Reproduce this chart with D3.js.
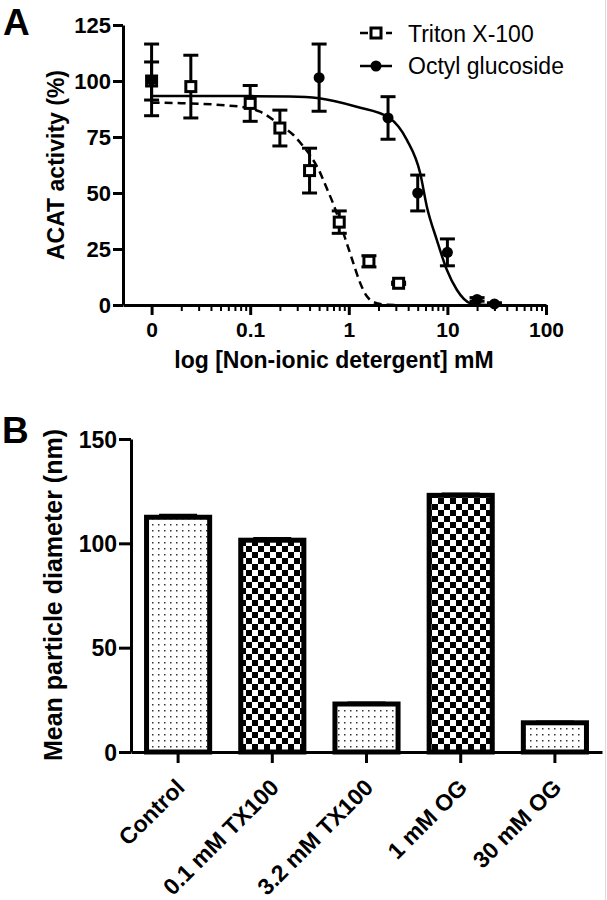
<!DOCTYPE html>
<html>
<head>
<meta charset="utf-8">
<script src="https://cdn.jsdelivr.net/npm/d3@7"></script>
<style>
  html, body { margin: 0; padding: 0; background: #fff; }
  svg { display: block; }
  text { font-family: "Liberation Sans", Arial, sans-serif; }
</style>
</head>
<body>
<svg id="chart" width="607" height="900"></svg>
<script>
// ---------- Panel A data ----------
const triX   = [0.01, 0.025, 0.1, 0.2, 0.4, 0.8, 1.6, 3.2];
const triY   = [100, 97.5, 90, 79, 60, 37, 19.5, 9.7];
const triErr = [8.5, 14, 8, 8, 10, 5, 2.5, 0.5];

const ogX   = [0.01, 0.5, 2.5, 5, 10, 20, 30];
const ogY   = [100.5, 101.5, 83.5, 50, 23.5, 2.5, 0.5];
const ogErr = [16, 15, 9.5, 8, 6, 0.8, 0.5];

// fitted curves
const triFitX = [0.01, 0.02, 0.05, 0.1, 0.126, 0.2, 0.274, 0.346, 0.41, 0.5, 0.598, 0.698, 0.817, 0.955, 1.114, 1.3, 1.52, 1.92, 2.5, 3.2];
const triFitY = [90.3, 90.1, 89.3, 87.8, 86.3, 80.5, 75.9, 70.8, 66.5, 60, 52.1, 45, 36.5, 27.5, 18.6, 10, 4, 0.8, 0.1, 0];
const ogFitX = [0.01, 0.1, 0.25, 0.5, 1.2, 2.57, 3.88, 5.3, 6.19, 7.82, 9.89, 12.5, 17.1, 22, 30];
const ogFitY = [93.3, 93.25, 93.1, 92.3, 88.5, 83.6, 73.7, 58.8, 43.9, 29, 15.6, 6.7, 0.8, 0.1, 0];

const xTickValsA = [0.01, 0.1, 1, 10, 100];
const xTickLabelsA = ["0", "0.1", "1", "10", "100"];
const yTickValsA = [0, 25, 50, 75, 100, 125];
const legendLabels = ["Triton X-100", "Octyl glucoside"];

// ---------- Panel B data ----------
const categories = ["Control", "0.1 mM TX100", "3.2 mM TX100", "1 mM OG", "30 mM OG"];
const barValues  = [112.5, 101.5, 23, 123, 14];
const barErr     = [1, 0.8, 0.5, 0.6, 0.4];
const yTickValsB = [0, 50, 100, 150];

const svg = d3.select("#chart");
const FONT = '"Liberation Sans", Arial, sans-serif';

// right edge faint line (scan border)
svg.append("line").attr("x1", 605.5).attr("x2", 605.5).attr("y1", 0).attr("y2", 900)
  .attr("stroke", "#dcdcdc").attr("stroke-width", 1);

// ---------- patterns ----------
const defs = svg.append("defs");
const dots = defs.append("pattern").attr("id", "dots").attr("patternUnits", "userSpaceOnUse")
  .attr("width", 6).attr("height", 6);
dots.append("rect").attr("width", 6).attr("height", 6).attr("fill", "#fff");
dots.append("rect").attr("x", 2).attr("y", 2).attr("width", 1.5).attr("height", 1.5).attr("fill", "#333");
const checker = defs.append("pattern").attr("id", "checker").attr("patternUnits", "userSpaceOnUse")
  .attr("width", 12).attr("height", 12);
checker.append("rect").attr("width", 12).attr("height", 12).attr("fill", "#fff");
checker.append("rect").attr("x", 0).attr("y", 0).attr("width", 6).attr("height", 6).attr("fill", "#000");
checker.append("rect").attr("x", 6).attr("y", 6).attr("width", 6).attr("height", 6).attr("fill", "#000");

// =============== PANEL A ===============
const xA = d3.scaleLog().domain([Math.pow(10, -2.29), 100]).range([123, 546]);
const yA = d3.scaleLinear().domain([0, 125]).range([305, 25]);

const gA = svg.append("g");

// minor ticks
const minorVals = [];
[0.01, 0.1, 1, 10].forEach(d => { for (let k = 2; k <= 9; k++) minorVals.push(d * k); });
gA.append("g").attr("transform", "translate(0,305)")
  .call(d3.axisBottom(xA).tickValues(minorVals).tickSize(6).tickFormat(""))
  .call(g => g.select(".domain").remove())
  .call(g => g.selectAll("line").attr("stroke", "#000").attr("stroke-width", 2));

// major x axis
gA.append("g").attr("transform", "translate(0,305)")
  .call(d3.axisBottom(xA).tickValues(xTickValsA).tickSize(10).tickSizeOuter(0)
    .tickFormat((d, i) => xTickLabelsA[i]))
  .call(g => g.select(".domain").attr("stroke", "#000").attr("stroke-width", 3))
  .call(g => g.selectAll(".tick line").attr("stroke", "#000").attr("stroke-width", 3))
  .call(g => g.selectAll(".tick text").attr("y", 32).attr("dy", 0)
    .style("font-family", FONT).style("font-size", "21px").style("font-weight", "bold").attr("fill", "#000"));

// y axis
gA.append("g").attr("transform", "translate(123,0)")
  .call(d3.axisLeft(yA).tickValues(yTickValsA).tickSize(10).tickSizeOuter(0).tickPadding(2))
  .call(g => g.select(".domain").attr("stroke", "#000").attr("stroke-width", 3))
  .call(g => g.selectAll(".tick line").attr("stroke", "#000").attr("stroke-width", 3))
  .call(g => g.selectAll(".tick text").attr("dy", "0.36em")
    .style("font-family", FONT).style("font-size", "22px").style("font-weight", "bold").attr("fill", "#000"));

// axis titles
gA.append("text").attr("x", 334).attr("y", 368).attr("text-anchor", "middle")
  .style("font-size", "23px").style("font-weight", "bold").text("log [Non-ionic detergent] mM");
gA.append("text").attr("transform", "translate(64,165) rotate(-90)").attr("text-anchor", "middle")
  .style("font-size", "23px").style("font-weight", "bold").text("ACAT activity (%)");

// panel letter
svg.append("text").attr("x", 3).attr("y", 35).style("font-size", "37px").style("font-weight", "bold").text("A");

// fit curves
const lineA = d3.line().x(d => xA(d[0])).y(d => yA(d[1])).curve(d3.curveMonotoneX);
gA.append("path").datum(ogFitX.map((x, i) => [x, ogFitY[i]]))
  .attr("d", lineA).attr("fill", "none").attr("stroke", "#000").attr("stroke-width", 2.5);
gA.append("path").datum(triFitX.map((x, i) => [x, triFitY[i]]))
  .attr("d", lineA).attr("fill", "none").attr("stroke", "#000").attr("stroke-width", 2.5)
  .attr("stroke-dasharray", "8,5");

// error bars
function errBars(xs, ys, es) {
  const g = gA.append("g").attr("stroke", "#000").attr("stroke-width", 3);
  xs.forEach((x, i) => {
    const cx = xA(x), y1 = yA(ys[i] + es[i]), y0 = yA(ys[i] - es[i]);
    g.append("line").attr("x1", cx).attr("x2", cx).attr("y1", y1).attr("y2", y0);
    g.append("line").attr("x1", cx - 7.5).attr("x2", cx + 7.5).attr("y1", y1).attr("y2", y1);
    g.append("line").attr("x1", cx - 7.5).attr("x2", cx + 7.5).attr("y1", y0).attr("y2", y0);
  });
}
errBars(triX, triY, triErr);
errBars(ogX, ogY, ogErr);

// markers
gA.append("g").selectAll("rect").data(triX).join("rect")
  .attr("x", (d) => xA(d) - 5).attr("y", (d, i) => yA(triY[i]) - 5)
  .attr("width", 10).attr("height", 10)
  .attr("fill", "#fff").attr("stroke", "#000").attr("stroke-width", 3);
gA.append("g").selectAll("circle").data(ogX).join("circle")
  .attr("cx", d => xA(d)).attr("cy", (d, i) => yA(ogY[i])).attr("r", 5.5).attr("fill", "#000");

// legend
const lg = svg.append("g");
lg.append("line").attr("x1", 360).attr("x2", 392).attr("y1", 33).attr("y2", 33)
  .attr("stroke", "#000").attr("stroke-width", 2.5).attr("stroke-dasharray", "8,5");
lg.append("rect").attr("x", 371).attr("y", 28).attr("width", 10).attr("height", 10)
  .attr("fill", "#fff").attr("stroke", "#000").attr("stroke-width", 3);
lg.append("line").attr("x1", 360).attr("x2", 392).attr("y1", 66).attr("y2", 66)
  .attr("stroke", "#000").attr("stroke-width", 2.5);
lg.append("circle").attr("cx", 376).attr("cy", 66).attr("r", 5.5).attr("fill", "#000");
lg.append("text").attr("x", 408).attr("y", 41.5).style("font-size", "23px").text(legendLabels[0]);
lg.append("text").attr("x", 408).attr("y", 74).style("font-size", "23px").text(legendLabels[1]);

// =============== PANEL B ===============
const xB = d3.scaleBand().domain(categories).range([131, 602]).paddingInner(0.33).paddingOuter(0.165);
const yB = d3.scaleLinear().domain([0, 150]).range([752, 439]);
const gB = svg.append("g");

// bars
gB.append("g").selectAll("rect").data(categories).join("rect")
  .attr("x", d => xB(d)).attr("y", (d, i) => yB(barValues[i]))
  .attr("width", xB.bandwidth()).attr("height", (d, i) => yB(0) - yB(barValues[i]))
  .attr("fill", (d, i) => i % 2 === 0 ? "url(#dots)" : "url(#checker)")
  .attr("stroke", "#000").attr("stroke-width", 5);

// bar error bars
const eb = gB.append("g").attr("stroke", "#000").attr("stroke-width", 3);
categories.forEach((c, i) => {
  const cx = xB(c) + xB.bandwidth() / 2;
  const yt = yB(barValues[i] + barErr[i]);
  eb.append("line").attr("x1", cx).attr("x2", cx).attr("y1", yB(barValues[i])).attr("y2", yt);
  eb.append("line").attr("x1", cx - 19).attr("x2", cx + 19).attr("y1", yt).attr("y2", yt);
});

// x axis B
gB.append("g").attr("transform", "translate(0,752)")
  .call(d3.axisBottom(xB).tickSize(11).tickSizeOuter(0).tickFormat(""))
  .call(g => g.select(".domain").attr("stroke", "#000").attr("stroke-width", 3))
  .call(g => g.selectAll(".tick line").attr("stroke", "#000").attr("stroke-width", 3));

// category labels
gB.append("g").selectAll("text").data(categories).join("text")
  .attr("transform", d => `translate(${xB(d) + xB.bandwidth() / 2 + 8},789) rotate(-45)`)
  .attr("text-anchor", "end")
  .style("font-size", "23px").style("font-weight", "bold").text(d => d);

// y axis B
gB.append("g").attr("transform", "translate(131,0)")
  .call(d3.axisLeft(yB).tickValues(yTickValsB).tickSize(12).tickSizeOuter(0).tickPadding(2))
  .call(g => g.select(".domain").attr("stroke", "#000").attr("stroke-width", 3))
  .call(g => g.selectAll(".tick line").attr("stroke", "#000").attr("stroke-width", 3))
  .call(g => g.selectAll(".tick text").attr("dy", "0.36em")
    .style("font-family", FONT).style("font-size", "23px").style("font-weight", "bold").attr("fill", "#000"));

gB.append("text").attr("transform", "translate(62,595) rotate(-90)").attr("text-anchor", "middle")
  .style("font-size", "25px").style("font-weight", "bold").text("Mean particle diameter (nm)");

svg.append("text").attr("x", 2).attr("y", 443).style("font-size", "37px").style("font-weight", "bold").text("B");
</script>
</body>
</html>
